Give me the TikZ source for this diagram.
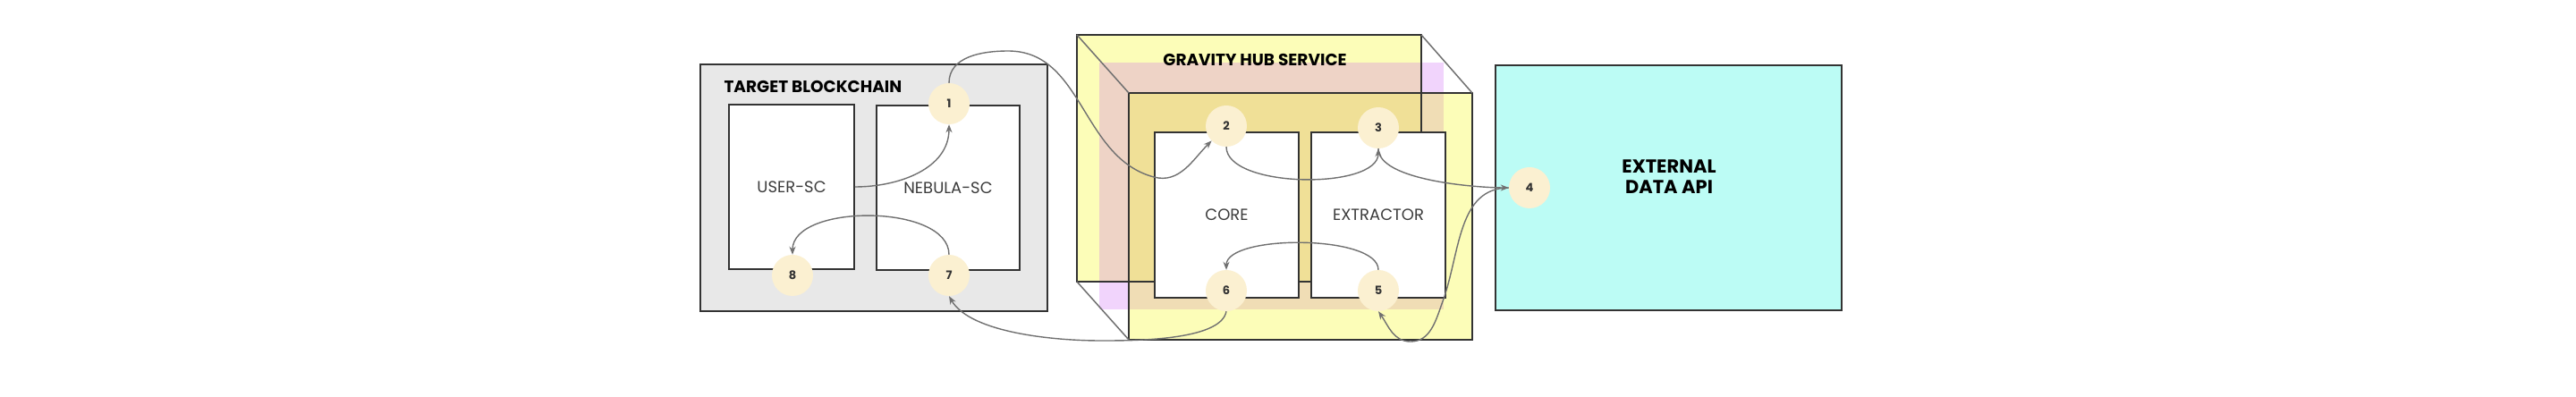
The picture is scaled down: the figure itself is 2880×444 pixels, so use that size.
\documentclass[tikz,border=0pt]{standalone}
\usepackage{fontspec}
\setmainfont{Poppins}
\usetikzlibrary{arrows.meta}
\definecolor{boxline}{HTML}{333333}
\definecolor{flowline}{HTML}{707070}
\definecolor{chainbg}{HTML}{E8E8E8}
\definecolor{apifill}{HTML}{BCFCF5}
\definecolor{hubyellow}{HTML}{FCFDB8}
\definecolor{lilac}{HTML}{F1D4FC}
\definecolor{salmon}{HTML}{EED3C6}
\definecolor{beige}{HTML}{F0DDB5}
\definecolor{hubdark}{HTML}{F0E097}
\definecolor{numfill}{HTML}{FBF0D1}
\definecolor{nametext}{HTML}{3C3C3C}
\newcommand{\badge}[3]{
	\node[num] (n#1) at (#2,#3) {#1};
	}

\begin{document}
\begin{tikzpicture}[
      x=1pt, y=1pt, %one unit is one pixel
      box/.style={draw=boxline, line width=1.6pt, fill=white, inner sep=0pt,
        font=\fontsize{18}{20}\selectfont, text=nametext},
      num/.style={circle, fill=numfill, minimum size=46pt, inner sep=0pt,
        font=\fontsize{13}{13}\selectfont\bfseries, text=boxline},
      flow/.style={draw=flowline, line width=1.4pt, ->, >={Stealth[length=9pt,width=7pt]}},
      hubline/.style={draw=boxline, line width=1.6pt},
      hubedge/.style={draw=flowline, line width=1.5pt},
      heading/.style={font=\fontsize{18.5}{23}\selectfont\bfseries, text=black}
    ]
    \useasboundingbox (0,0) rectangle (2880,444);
    % Target blockchain
    \node[box, fill=chainbg, minimum width=388pt, minimum height=276pt] (chain) at (977,234) {};
    \node[heading, anchor=west] (chaintitle) at (806,347) {TARGET BLOCKCHAIN};
    \node[box, minimum width=140pt, minimum height=184pt] (user) at (885,235) {USER-SC};
    \node[box, minimum width=160pt, minimum height=184pt] (nebula) at (1060,234) {NEBULA-SC};
    % Gravity hub service, back face, overlay and front face
    \fill[lilac] (1229,98) rectangle (1614,374);
    \fill[hubyellow] (1204,129) rectangle (1589,405);
    \fill[salmon] (1229,129) rectangle (1589,374);
    \fill[hubyellow] (1262,64) rectangle (1646,340);
    \fill[beige] (1262,98) rectangle (1614,340);
    \fill[hubdark] (1262,129) rectangle (1589,340);
    \draw[hubline] (1204,129) rectangle (1589,405);
    \draw[hubline] (1262,64) rectangle (1646,340);
    \draw[hubedge] (1204,405) -- (1262,340) (1589,405) -- (1646,340) (1204,129) -- (1262,64);
    \node[heading] (hubtitle) at (1403,377) {GRAVITY HUB SERVICE};
    \node[box, minimum width=161pt, minimum height=185pt] (core) at (1371.5,203.5) {CORE};
    \node[box, minimum width=150pt, minimum height=185pt] (extractor) at (1541,203.5) {EXTRACTOR};
    % External data api
    \node[box, fill=apifill, minimum width=387pt, minimum height=274pt] (api) at (1865.5,234) {};
    \node[heading, font=\fontsize{21}{23}\selectfont\bfseries, align=center] (apititle) at (1866,246) {EXTERNAL\\DATA API};
    % Steps
    \badge{1}{1061}{328};
    \badge{2}{1371}{303};
    \badge{3}{1541}{301};
    \badge{4}{1710}{234};
    \badge{5}{1541}{119};
    \badge{6}{1371}{119};
    \badge{7}{1061}{136};
    \badge{8}{886}{136};
    % Flow between the steps
    \draw[flow] (user.east) to[out=0,in=-90] (n1.south);
    \draw[flow] (n1.north) to[out=90,in=180] (1127,387) to[out=0,in=165] (1290,246) to[out=-15,in=-135] (n2.south west);
    \draw[flow] (n2.south) to[out=-90,in=-90,looseness=0.7] (n3.south);
    \draw[flow] (n3.south) to[out=-90,in=180,looseness=0.6] (n4.west);
    \draw[flow] (n4.west) to[out=180,in=70] (1613,107) to[out=250,in=0] (1577,62) to[out=180,in=-55] (n5.south);
    \draw[flow] (n5.north) to[out=90,in=90,looseness=0.6] (n6.north);
    \draw[flow] (n6.south) to[out=-100,in=0,looseness=0.6] (1230,63) to[out=180,in=-60,looseness=0.7] (n7.south);
    \draw[flow] (n7.north) to[out=90,in=90,looseness=0.84] (n8.north);
\end{tikzpicture}
\end{document}
